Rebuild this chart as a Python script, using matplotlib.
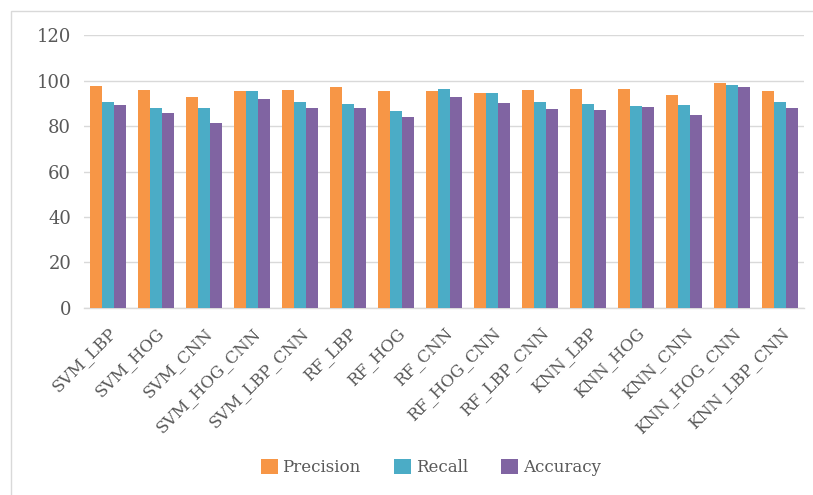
import matplotlib
matplotlib.use("Agg")
import matplotlib.pyplot as plt
from matplotlib.patches import Rectangle
import numpy as np

methods = ["SVM_LBP", "SVM_HOG", "SVM_CNN", "SVM_HOG_CNN", "SVM_LBP_CNN",
           "RF_LBP", "RF_HOG", "RF_CNN", "RF_HOG_CNN", "RF_LBP_CNN",
           "KNN_LBP", "KNN_HOG", "KNN_CNN", "KNN_HOG_CNN", "KNN_LBP_CNN"]
precision = [97.8, 96.0, 92.9, 95.3, 96.0, 97.3, 95.6, 95.3, 94.5, 95.9,
             96.3, 96.3, 93.6, 98.8, 95.6]
recall = [90.4, 88.1, 88.1, 95.3, 90.8, 89.6, 86.5, 96.3, 94.5, 90.5,
          89.6, 88.9, 89.2, 97.9, 90.8]
accuracy = [89.2, 85.9, 81.2, 91.7, 88.1, 87.9, 84.1, 93.0, 90.2, 87.6,
            87.1, 88.6, 84.9, 97.2, 87.8]
yticks = [0, 20, 40, 60, 80, 100, 120]

series = [("Precision", precision, "#F79646"),
          ("Recall", recall, "#4BACC6"),
          ("Accuracy", accuracy, "#8064A2")]

plt.rcParams["font.family"] = ["DejaVu Serif"]
text_color = "#595959"

fig = plt.figure(figsize=(8.13, 4.95), dpi=100)
ax = fig.add_axes([0.103, 0.378, 0.886, 0.551])

x = np.arange(len(methods))
w = 0.25
for i, (name, vals, col) in enumerate(series):
    ax.bar(x + (i - 1) * w, vals, width=w, color=col, label=name,
           edgecolor="none", zorder=3)

ax.set_xlim(-0.5, len(methods) - 0.5)
ax.set_ylim(0, 120)
ax.set_yticks(yticks)
ax.set_yticklabels([str(v) for v in yticks], fontsize=13, color=text_color)
ax.set_xticks(x)
ax.set_xticklabels(methods, rotation=45, ha="right", rotation_mode="anchor",
                   fontsize=12, color=text_color)
ax.tick_params(axis="x", length=0, pad=12)
ax.tick_params(axis="y", length=0, pad=9)
ax.grid(axis="y", color="#D9D9D9", linewidth=1.0, zorder=0)
for s in ["top", "right", "left"]:
    ax.spines[s].set_visible(False)
ax.spines["bottom"].set_color("#D9D9D9")
ax.spines["bottom"].set_linewidth(1.0)

leg = fig.legend(loc="center", bbox_to_anchor=(0.53, 0.056), ncol=3,
                 frameon=False, fontsize=12, handlelength=1.0,
                 handleheight=1.0, handletextpad=0.3, columnspacing=2.0)
for t in leg.get_texts():
    t.set_color(text_color)

fig.patches.append(Rectangle((0.014, -0.01), 1.0, 0.988, transform=fig.transFigure,
                             fill=False, edgecolor="#D9D9D9", linewidth=1.0))

fig.savefig("out.png", dpi=100, facecolor="white")
